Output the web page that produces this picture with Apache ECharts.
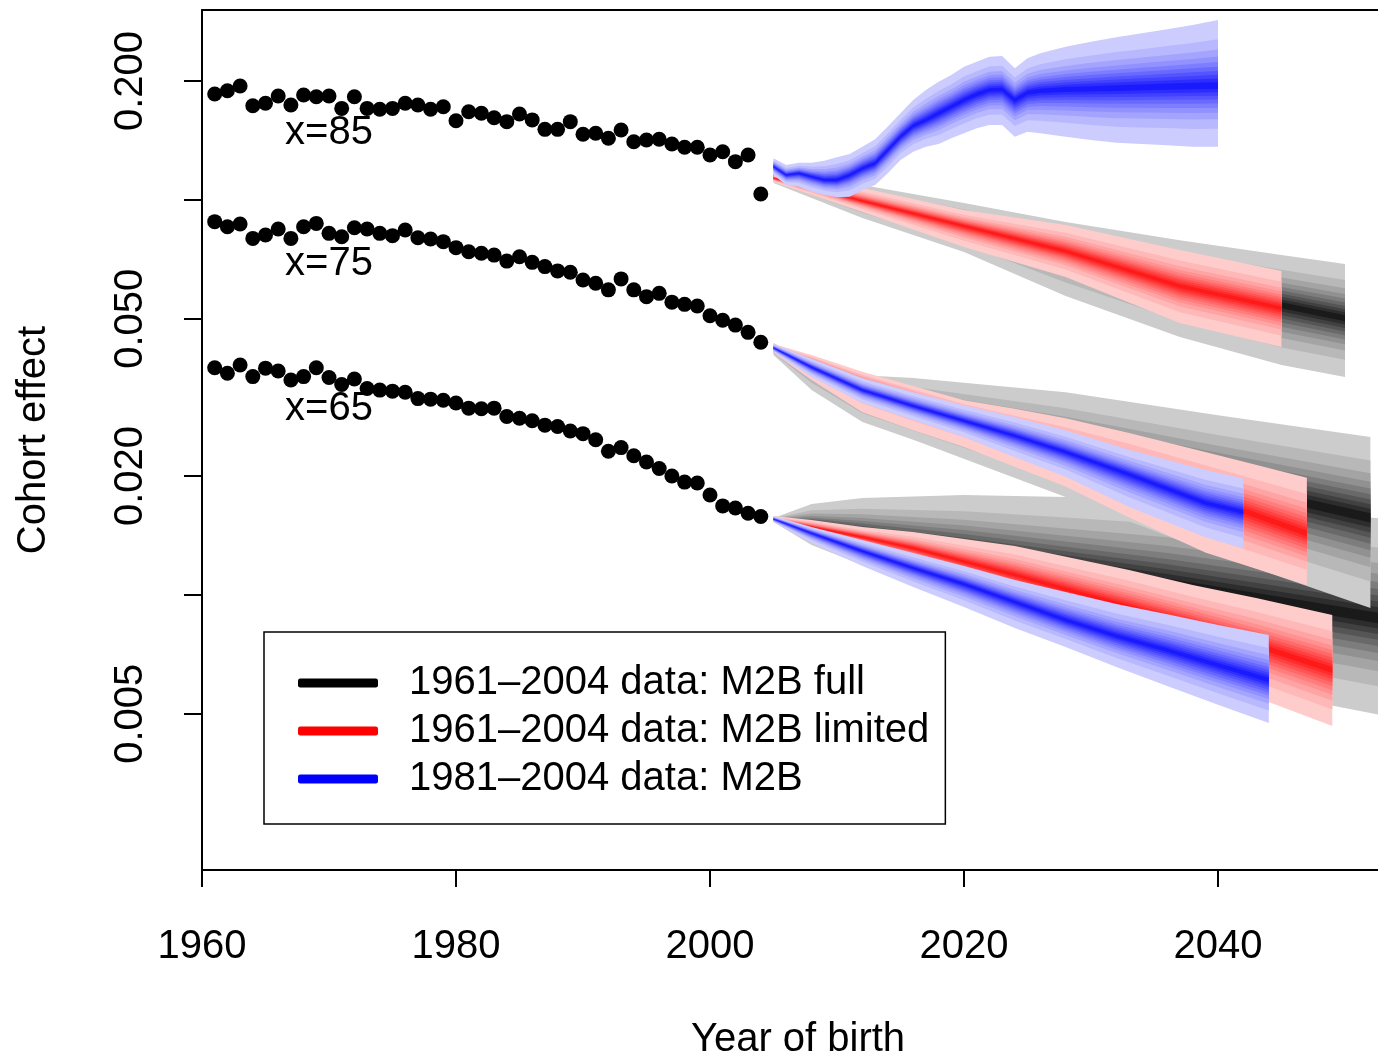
<!DOCTYPE html>
<html>
<head>
<meta charset="utf-8">
<title>Cohort effect</title>
<script src="https://cdn.jsdelivr.net/npm/echarts@6/dist/echarts.min.js"></script>
<style>
  html, body { margin: 0; padding: 0; background: #fff; }
  #chart { width: 1378px; height: 1057px; }
</style>
</head>
<body>
<div id="chart"></div>
<script>
// ---- observed cohort effects, 1961-2004 ----
const cohortYears = Array.from({ length: 44 }, (_, i) => 1961 + i);
const obs85 = [0.1854, 0.1890, 0.1943, 0.1732, 0.1756, 0.1833, 0.1739, 0.1843, 0.1825, 0.1833,
  0.1705, 0.1825, 0.1705, 0.1696, 0.1705, 0.1756, 0.1739, 0.1696, 0.1721, 0.1587,
  0.1672, 0.1657, 0.1615, 0.1578, 0.1650, 0.1594, 0.1509, 0.1509, 0.1578, 0.1466,
  0.1475, 0.1432, 0.1503, 0.1404, 0.1418, 0.1424, 0.1385, 0.1359, 0.1359, 0.1299,
  0.1324, 0.1250, 0.1299, 0.1035];
const obs75 = [0.0881, 0.0855, 0.0869, 0.0799, 0.0815, 0.0844, 0.0799, 0.0855, 0.0872, 0.0823,
  0.0807, 0.0850, 0.0844, 0.0823, 0.0812, 0.0839, 0.0802, 0.0796, 0.0784, 0.0757,
  0.0739, 0.0733, 0.0725, 0.0700, 0.0718, 0.0695, 0.0678, 0.0661, 0.0656, 0.0627,
  0.0615, 0.0592, 0.0631, 0.0592, 0.0569, 0.0580, 0.0551, 0.0544, 0.0539, 0.0509,
  0.0496, 0.0482, 0.0462, 0.0436];
const obs65 = [0.0376, 0.0364, 0.0382, 0.0357, 0.0375, 0.0369, 0.0350, 0.0357, 0.0376, 0.0355,
  0.0341, 0.0352, 0.0333, 0.0330, 0.0328, 0.0326, 0.0314, 0.0313, 0.0311, 0.0306,
  0.0297, 0.0296, 0.0297, 0.0283, 0.0280, 0.0276, 0.0269, 0.0267, 0.0260, 0.0256,
  0.0247, 0.0231, 0.0236, 0.0225, 0.0217, 0.0209, 0.0200, 0.0193, 0.0192, 0.0179,
  0.0168, 0.0166, 0.0161, 0.0158];

// ---- age labels ----
const ageLabels = ['x=85', 'x=75', 'x=65'];
const ageLabelYears = [1970, 1970, 1970];
const ageLabelValues = [0.1480, 0.0690, 0.0296];

// ---- projections: median and outer (1%-99%) limits ----
// M2B full (black)
const full85Years = [2005, 2012, 2020, 2028, 2037, 2045, 2050];
const full85Mid = [0.1143, 0.0999, 0.0864, 0.0747, 0.0616, 0.0542, 0.0502];
const full85Lo = [0.1104, 0.0900, 0.0738, 0.0571, 0.0450, 0.0382, 0.0356];
const full85Hi = [0.1177, 0.1091, 0.0982, 0.0879, 0.0791, 0.0725, 0.0688];

const full75Years = [2005, 2008, 2012, 2016, 2028, 2040, 2052];
const full75Mid = [0.0419, 0.0382, 0.0326, 0.0297, 0.0237, 0.0192, 0.0157];
const full75Lo = [0.0405, 0.0330, 0.0274, 0.0247, 0.0177, 0.0126, 0.00927];
const full75Hi = [0.0434, 0.0389, 0.0360, 0.0354, 0.0326, 0.0285, 0.0251];

const full65Years = [2005, 2008, 2012, 2020, 2028, 2036, 2044, 2054];
const full65Mid = [0.01556, 0.01503, 0.01426, 0.01299, 0.01177, 0.01072, 0.00971, 0.00859];
const full65Lo = [0.01529, 0.01338, 0.01190, 0.00971, 0.00792, 0.00664, 0.00564, 0.00488];
const full65Hi = [0.01565, 0.01698, 0.01758, 0.01790, 0.01770, 0.01739, 0.01660, 0.01548];

// M2B limited (red)
const lim85Years = [2005, 2012, 2020, 2028, 2037, 2045];
const lim85Mid = [0.1136, 0.0994, 0.0859, 0.0742, 0.0605, 0.0532];
const lim85Lo = [0.1110, 0.0932, 0.0760, 0.0638, 0.0488, 0.0424];
const lim85Hi = [0.1156, 0.1072, 0.0943, 0.0864, 0.0747, 0.0661];

const lim75Years = [2005, 2008, 2012, 2016, 2020, 2024, 2028, 2033, 2039, 2047];
const lim75Mid = [0.0422, 0.0389, 0.0346, 0.0315, 0.0287, 0.0258, 0.0234, 0.0207, 0.0177, 0.0143];
const lim75Lo = [0.0410, 0.0350, 0.0290, 0.0261, 0.0237, 0.0211, 0.0188, 0.0157, 0.0128, 0.0106];
const lim75Hi = [0.0432, 0.0405, 0.0367, 0.0338, 0.0311, 0.0296, 0.0280, 0.0257, 0.0230, 0.0198];

const lim65Years = [2005, 2008, 2012, 2016, 2024, 2033, 2038, 2043, 2049];
const lim65Mid = [0.01556, 0.01486, 0.01402, 0.01314, 0.01123, 0.00932, 0.00839, 0.00747, 0.00646];
const lim65Lo = [0.01529, 0.01418, 0.01299, 0.01190, 0.00971, 0.00747, 0.00646, 0.00551, 0.00466];
const lim65Hi = [0.01584, 0.01548, 0.01486, 0.01442, 0.01330, 0.01156, 0.01060, 0.00982, 0.00889];

// 1981-2004 M2B (blue)
const m2b85Years = [2005, 2006, 2007, 2008, 2009, 2010, 2011, 2012, 2013, 2014, 2015, 2016, 2017, 2018,
  2019, 2020, 2021, 2022, 2023, 2024, 2025, 2026, 2028, 2030, 2032, 2034, 2036, 2038, 2040];
const m2b85Mid = [0.1214, 0.1156, 0.1168, 0.1145, 0.1123, 0.1123, 0.1156, 0.1202, 0.1238, 0.1338,
  0.1446, 0.1539, 0.1593, 0.1657, 0.1722, 0.1790, 0.1850, 0.1898, 0.1905, 0.1790,
  0.1868, 0.1890, 0.1905, 0.1912, 0.1920, 0.1928, 0.1935, 0.1942, 0.1946];
const m2b85Lo = [0.1156, 0.1091, 0.1080, 0.1049, 0.1029, 0.1015, 0.1019, 0.1059, 0.1091, 0.1168,
  0.1262, 0.1324, 0.1364, 0.1385, 0.1432, 0.1475, 0.1518, 0.1548, 0.1548, 0.1446,
  0.1488, 0.1475, 0.1446, 0.1418, 0.1396, 0.1385, 0.1375, 0.1364, 0.1364];
const m2b85Hi = [0.1275, 0.1225, 0.1242, 0.1242, 0.1257, 0.1282, 0.1307, 0.1364, 0.1424, 0.1533,
  0.1657, 0.1790, 0.1898, 0.1992, 0.2071, 0.2174, 0.2238, 0.2304, 0.2314, 0.2154,
  0.2283, 0.2350, 0.2442, 0.2515, 0.2581, 0.2641, 0.2704, 0.2772, 0.2854];

const m2b75Years = [2005, 2008, 2012, 2016, 2020, 2024, 2028, 2033, 2039, 2042];
const m2b75Mid = [0.0422, 0.0377, 0.0330, 0.0301, 0.0276, 0.0253, 0.0230, 0.0202, 0.0171, 0.0162];
const m2b75Lo = [0.0412, 0.0356, 0.0306, 0.0277, 0.0251, 0.0223, 0.0199, 0.0167, 0.0140, 0.0131];
const m2b75Hi = [0.0432, 0.0396, 0.0354, 0.0326, 0.0302, 0.0282, 0.0261, 0.0233, 0.0207, 0.0197];

const m2b65Years = [2005, 2008, 2012, 2016, 2020, 2024, 2028, 2032, 2036, 2040, 2044];
const m2b65Mid = [0.01556, 0.01434, 0.01291, 0.01170, 0.01066, 0.00960, 0.00864, 0.00787, 0.00725, 0.00664, 0.00609];
const m2b65Lo = [0.01529, 0.01354, 0.01184, 0.01047, 0.00932, 0.00824, 0.00738, 0.00657, 0.00588, 0.00527, 0.00474];
const m2b65Hi = [0.01584, 0.01486, 0.01378, 0.01277, 0.01184, 0.01091, 0.01017, 0.00948, 0.00894, 0.00839, 0.00792];

// ---- axes ----
const xTicks = [1960, 1980, 2000, 2020, 2040];
const yTicks = [0.2, 0.1, 0.05, 0.02, 0.01, 0.005];
const yLabels = [0.2, 0.05, 0.02, 0.005];

const names = ['1961\u20132004 data: M2B full', '1961\u20132004 data: M2B limited', '1981\u20132004 data: M2B'];
const FONT = 'Liberation Sans, Arial, Helvetica, sans-serif';

// band edges as share of the outer half width (1%,5%,10%...45% quantiles)
const bandFrac = [1, 0.707, 0.551, 0.445, 0.362, 0.290, 0.225, 0.166, 0.109, 0.054];

function shades(rgb) {
  return bandFrac.map(function (f, k) {
    const w = 0.8 - 0.7 * k / (bandFrac.length - 1);
    const c = rgb.map(function (v) { return Math.round(v + (255 - v) * w); });
    return 'rgb(' + c.join(',') + ')';
  });
}

function fanSeries(name, rgb, years, mid, lo, hi, z) {
  const cols = shades(rgb);
  return {
    name: name,
    type: 'custom',
    coordinateSystem: 'cartesian2d',
    z: z,
    clip: true,
    silent: true,
    itemStyle: { color: 'rgb(' + rgb.join(',') + ')' },
    data: bandFrac.map(function (f, k) { return [years[0], Math.log10(mid[0]), k]; }),
    encode: { x: 0, y: 1 },
    renderItem: function (params, api) {
      const f = bandFrac[params.dataIndex];
      const top = [], bot = [];
      for (let i = 0; i < years.length; i++) {
        const m = Math.log10(mid[i]);
        top.push(api.coord([years[i], m + (Math.log10(hi[i]) - m) * f]));
        bot.push(api.coord([years[i], m - (m - Math.log10(lo[i])) * f]));
      }
      return {
        type: 'polygon',
        shape: { points: top.concat(bot.reverse()) },
        style: { fill: cols[params.dataIndex] }
      };
    }
  };
}

function dots(values) {
  return {
    type: 'scatter',
    symbol: 'circle',
    symbolSize: 15,
    z: 10,
    silent: true,
    itemStyle: { color: '#000', opacity: 1 },
    data: cohortYears.map(function (yr, i) { return [yr, Math.log10(values[i])]; })
  };
}

const myChart = echarts.init(document.getElementById('chart'));

const axisLineStyle = { color: '#000', width: 2 };

const option = {
  animation: false,
  backgroundColor: '#fff',
  textStyle: { fontFamily: FONT },
  grid: { left: 202, top: 10, right: 0, bottom: 187 },
  legend: {
    orient: 'vertical',
    left: 264,
    top: 632,
    padding: [31, 16, 25, 34],
    itemGap: 8,
    itemWidth: 80,
    itemHeight: 9,
    icon: 'roundRect',
    borderColor: '#000',
    borderWidth: 1.5,
    selectedMode: false,
    textStyle: { fontSize: 40, color: '#000', fontFamily: FONT, padding: [0, 0, 0, 26] },
    data: [
      { name: names[0], itemStyle: { color: '#000' } },
      { name: names[1], itemStyle: { color: '#ff0000' } },
      { name: names[2], itemStyle: { color: '#0000ff' } }
    ]
  },
  xAxis: [
    {
      type: 'value',
      min: 1960,
      max: 2052.6,
      axisLine: { show: true, onZero: false, lineStyle: axisLineStyle },
      axisTick: { show: true, customValues: xTicks, length: 17, lineStyle: axisLineStyle },
      axisLabel: {
        customValues: xTicks, margin: 57, fontSize: 40, color: '#000', fontFamily: FONT,
        formatter: function (v) { return String(v); }
      },
      splitLine: { show: false }
    },
    {
      type: 'value',
      position: 'top',
      min: 1960,
      max: 2052.6,
      axisLine: { show: true, onZero: false, lineStyle: axisLineStyle },
      axisTick: { show: false },
      axisLabel: { show: false },
      splitLine: { show: false }
    }
  ],
  yAxis: {
    type: 'value',
    min: -2.69644,
    max: -0.51922,
    axisLine: { show: true, onZero: false, lineStyle: axisLineStyle },
    axisTick: { show: true, customValues: yTicks.map(Math.log10), length: 18, lineStyle: axisLineStyle },
    axisLabel: {
      customValues: yLabels.map(Math.log10),
      rotate: 90,
      margin: 51,
      fontSize: 40,
      color: '#000',
      fontFamily: FONT,
      formatter: function (v) { return Math.pow(10, v).toFixed(3); }
    },
    splitLine: { show: false }
  },
  graphic: [
    {
      type: 'text', x: 34, y: 440, rotation: Math.PI / 2,
      style: { text: 'Cohort effect', fontSize: 40, fill: '#000', fontFamily: FONT, align: 'center', verticalAlign: 'middle' }
    },
    {
      type: 'text', x: 798, y: 1040,
      style: { text: 'Year of birth', fontSize: 40, fill: '#000', fontFamily: FONT, align: 'center', verticalAlign: 'middle' }
    }
  ],
  series: [
    fanSeries(names[0], [0, 0, 0], full65Years, full65Mid, full65Lo, full65Hi, 1),
    fanSeries(names[0], [0, 0, 0], full75Years, full75Mid, full75Lo, full75Hi, 1),
    fanSeries(names[0], [0, 0, 0], full85Years, full85Mid, full85Lo, full85Hi, 1),
    fanSeries(names[1], [255, 0, 0], lim65Years, lim65Mid, lim65Lo, lim65Hi, 2),
    fanSeries(names[1], [255, 0, 0], lim75Years, lim75Mid, lim75Lo, lim75Hi, 2),
    fanSeries(names[1], [255, 0, 0], lim85Years, lim85Mid, lim85Lo, lim85Hi, 2),
    fanSeries(names[2], [0, 0, 255], m2b65Years, m2b65Mid, m2b65Lo, m2b65Hi, 3),
    fanSeries(names[2], [0, 0, 255], m2b75Years, m2b75Mid, m2b75Lo, m2b75Hi, 3),
    fanSeries(names[2], [0, 0, 255], m2b85Years, m2b85Mid, m2b85Lo, m2b85Hi, 3),
    {
      type: 'scatter',
      symbolSize: 0,
      z: 9,
      silent: true,
      itemStyle: { color: 'transparent', opacity: 1 },
      label: {
        show: true,
        position: 'inside',
        color: '#000',
        opacity: 1,
        fontSize: 40,
        fontFamily: FONT,
        formatter: function (p) { return p.data[2]; }
      },
      data: ageLabels.map(function (t, i) { return [ageLabelYears[i], Math.log10(ageLabelValues[i]), t]; })
    },
    dots(obs85),
    dots(obs75),
    dots(obs65)
  ]
};

myChart.setOption(option);
</script>
</body>
</html>
